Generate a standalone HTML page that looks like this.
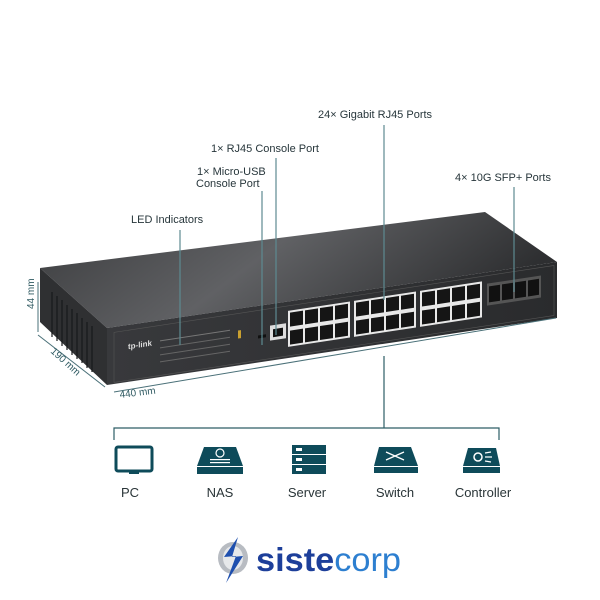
<!DOCTYPE html>
<html><head><meta charset="utf-8"><style>
html,body{margin:0;padding:0;background:#fff}
svg{display:block}
text{font-family:"Liberation Sans",sans-serif}
</style></head><body>
<svg width="600" height="600" viewBox="0 0 600 600" xmlns="http://www.w3.org/2000/svg">
<defs>
<linearGradient id="top" x1="0" y1="0" x2="1" y2="0.3">
<stop offset="0" stop-color="#3a3b3d"/><stop offset="0.5" stop-color="#606164"/><stop offset="1" stop-color="#2e2f31"/>
</linearGradient>
<linearGradient id="front" x1="0" y1="0" x2="1" y2="0">
<stop offset="0" stop-color="#38393c"/><stop offset="1" stop-color="#2a2b2d"/>
</linearGradient>
</defs>
<g fill="#27363b" font-size="11">
<text x="318" y="118">24× Gigabit RJ45 Ports</text>
<text x="211" y="152">1× RJ45 Console Port</text>
<text x="197" y="175">1× Micro-USB</text>
<text x="196" y="187">Console Port</text>
<text x="455" y="181">4× 10G SFP+ Ports</text>
<text x="131" y="223">LED Indicators</text>
</g>
<polygon points="40,268 485,212 557,262 107,328" fill="url(#top)"/>
<polygon points="40,268 107,328 107,385 40,322" fill="#2f3032"/>
<g stroke="#18191a" stroke-width="1.2">
<line x1="52" y1="292" x2="52" y2="337"/><line x1="57" y1="296" x2="57" y2="341"/><line x1="62" y1="300" x2="62" y2="346"/><line x1="67" y1="305" x2="67" y2="350"/><line x1="72" y1="309" x2="72" y2="355"/><line x1="77" y1="313" x2="77" y2="359"/><line x1="82" y1="318" x2="82" y2="363"/><line x1="87" y1="322" x2="87" y2="368"/><line x1="92" y1="326" x2="92" y2="372"/>
</g>
<polygon points="107,328 557,262 557,318 107,385" fill="url(#front)"/>
<g transform="matrix(1,-0.152,0,1,0,16.7)">
<rect x="114" y="333" width="440" height="50" fill="none" stroke="#555" stroke-width="0.6"/>
<text x="128" y="352" fill="#ddd" font-size="8" font-weight="bold">tp-link</text>
<rect x="160" y="348" width="70" height="1" fill="#777"/>
<rect x="160" y="355" width="70" height="1" fill="#666"/>
<rect x="160" y="362" width="70" height="1" fill="#666"/>
<rect x="160" y="369" width="70" height="1" fill="#666"/>
<rect x="238" y="350" width="3" height="8" fill="#c9a030"/>
<rect x="258" y="358" width="8" height="3" fill="#111"/>
<rect x="270" y="350" width="16" height="15" fill="#ddd"/>
<rect x="273" y="354" width="10" height="8" fill="#111"/>
<rect x="288" y="338" width="62" height="36" fill="#e8e8e8"/>
<rect x="354" y="338" width="62" height="36" fill="#e8e8e8"/>
<rect x="420" y="338" width="62" height="36" fill="#e8e8e8"/>
<g fill="#151515">
<rect x="290" y="340" width="13" height="14"/><rect x="305" y="340" width="13" height="14"/><rect x="320" y="340" width="13" height="14"/><rect x="335" y="340" width="13" height="14"/>
<rect x="290" y="358" width="13" height="14"/><rect x="305" y="358" width="13" height="14"/><rect x="320" y="358" width="13" height="14"/><rect x="335" y="358" width="13" height="14"/>
<rect x="356" y="340" width="13" height="14"/><rect x="371" y="340" width="13" height="14"/><rect x="386" y="340" width="13" height="14"/><rect x="401" y="340" width="13" height="14"/>
<rect x="356" y="358" width="13" height="14"/><rect x="371" y="358" width="13" height="14"/><rect x="386" y="358" width="13" height="14"/><rect x="401" y="358" width="13" height="14"/>
<rect x="422" y="340" width="13" height="14"/><rect x="437" y="340" width="13" height="14"/><rect x="452" y="340" width="13" height="14"/><rect x="467" y="340" width="13" height="14"/>
<rect x="422" y="358" width="13" height="14"/><rect x="437" y="358" width="13" height="14"/><rect x="452" y="358" width="13" height="14"/><rect x="467" y="358" width="13" height="14"/>
</g>
<rect x="487" y="341" width="54" height="22" fill="#555"/>
<g fill="#111"><rect x="489" y="344" width="11" height="16"/><rect x="502" y="344" width="11" height="16"/><rect x="515" y="344" width="11" height="16"/><rect x="528" y="344" width="11" height="16"/></g>
</g>
<g stroke="#5d8a91" stroke-width="1.2">
<line x1="384" y1="125" x2="384" y2="300"/>
<line x1="276" y1="158" x2="276" y2="335"/>
<line x1="262" y1="191" x2="262" y2="345"/>
<line x1="514" y1="187" x2="514" y2="292"/>
<line x1="180" y1="230" x2="180" y2="345"/>
</g>
<g stroke="#4a7078" stroke-width="1" fill="none">
<line x1="38" y1="282" x2="38" y2="332"/>
<line x1="38" y1="335" x2="105" y2="387"/>
<line x1="114" y1="392" x2="556" y2="318"/>
</g>
<g fill="#2f5a62" font-size="10">
<text transform="translate(34,309) rotate(-90)">44 mm</text>
<text transform="translate(50,352) rotate(42)">190 mm</text>
<text transform="translate(120,398) rotate(-7)">440 mm</text>
</g>
<g stroke="#2d5d66" stroke-width="1.2" fill="none">
<line x1="384" y1="356" x2="384" y2="428"/>
<polyline points="114,440 114,428 499,428 499,440"/>
</g>
<g fill="#0e4b5a">
<rect x="116" y="447" width="36" height="24" rx="2" fill="none" stroke="#0e4b5a" stroke-width="3"/>
<rect x="129" y="471" width="10" height="3"/>
<polygon points="204,447 236,447 243,466 197,466"/>
<rect x="197" y="467" width="46" height="7"/>
<circle cx="220" cy="453" r="4" fill="none" stroke="#fff" stroke-width="1.2"/>
<rect x="210" y="459" width="20" height="1.2" fill="#fff"/><rect x="210" y="462" width="20" height="1.2" fill="#fff"/>
<rect x="292" y="445" width="34" height="9"/><rect x="292" y="455" width="34" height="9"/><rect x="292" y="465" width="34" height="9"/>
<rect x="296" y="448" width="6" height="3" fill="#fff"/><rect x="296" y="458" width="6" height="3" fill="#fff"/><rect x="296" y="468" width="6" height="3" fill="#fff"/>
<polygon points="379,447 411,447 418,466 374,466"/>
<rect x="374" y="467" width="44" height="6"/>
<path d="M386,452 L404,460 M386,460 L404,452" stroke="#fff" stroke-width="1.3"/>
<polygon points="468,448 496,448 500,466 463,466"/>
<rect x="463" y="467" width="37" height="6"/>
<circle cx="478" cy="457" r="4" fill="none" stroke="#fff" stroke-width="1.5"/>
<path d="M485,453 L491,452 M485,457 L492,457 M485,461 L491,462" stroke="#fff" stroke-width="1.2"/>
</g>
<g fill="#2a3538" font-size="13" text-anchor="middle">
<text x="130" y="497">PC</text>
<text x="220" y="497">NAS</text>
<text x="307" y="497">Server</text>
<text x="395" y="497">Switch</text>
<text x="483" y="497">Controller</text>
</g>
<ellipse cx="233" cy="558" rx="15" ry="16" fill="#b8bcc2"/>
<ellipse cx="233" cy="558" rx="10" ry="12" fill="#e6e8ea"/>
<path d="M238,537 L224,557 L236,556 L226,583 L243,556 L232,557 Z" fill="#1e4fae"/>
<text x="256" y="571" font-size="33" font-weight="bold" fill="#1d3f9a" textLength="145" lengthAdjust="spacingAndGlyphs">siste<tspan font-weight="normal" fill="#2d7fd0">corp</tspan></text>
</svg>
</body></html>
